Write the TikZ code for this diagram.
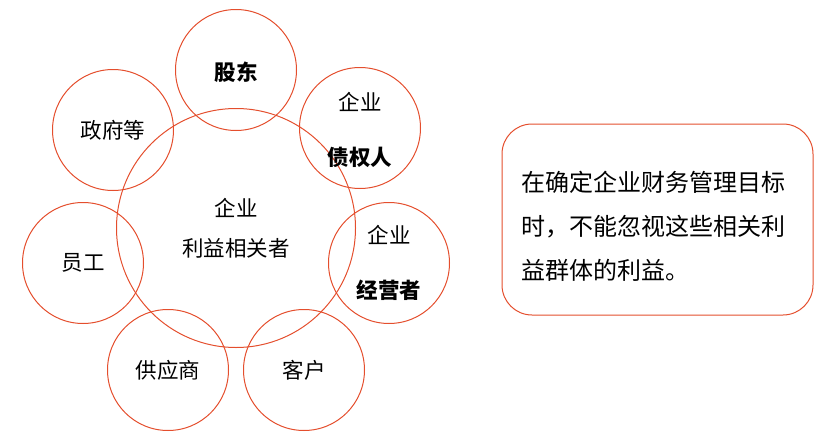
\documentclass[tikz,border=0pt]{standalone}
\usepackage{fontspec}
\setmainfont{Noto Sans CJK SC}
\definecolor{ring}{RGB}{228,78,45}
\begin{document}
\begin{tikzpicture}[x=1pt,y=-1pt,
  ringc/.style={circle,draw=ring,line width=1pt,minimum size=#1,inner sep=0pt},
  lbl/.style={font=\fontsize{21.5}{24}\selectfont,text=black},
  bl/.style={font=\fontsize{21.5}{24}\selectfont\bfseries,text=black},
  note/.style={draw=ring,line width=1pt,rounded corners=30pt,minimum width=311pt,minimum height=191pt,inner sep=0pt}]
\useasboundingbox (0,0) rectangle (822,442);
\node[ringc=239pt] (big) at (236,228) {};
\node[ringc=121pt] (gd) at (236,70) {};
\node[ringc=121pt] (zf) at (113,130) {};
\node[ringc=121pt] (zq) at (360,128) {};
\node[ringc=121pt] (yg) at (83,263) {};
\node[ringc=121pt] (jy) at (389,263) {};
\node[ringc=121pt] (gy) at (168,370) {};
\node[ringc=121pt] (kh) at (304,370) {};
\node[bl] (tgd) at (236,72) {股东};
\node[lbl] (tzf) at (113,130) {政府等};
\node[lbl] (tzq1) at (360,102) {企业};
\node[bl] (tzq2) at (360,157) {债权人};
\node[lbl] (tbig1) at (236,208) {企业};
\node[lbl] (tbig2) at (236,248) {利益相关者};
\node[lbl] (tyg) at (83,263) {员工};
\node[lbl] (tjy1) at (389,235) {企业};
\node[bl] (tjy2) at (389,290) {经营者};
\node[lbl] (tgy) at (168,370) {供应商};
\node[lbl] (tkh) at (304,370) {客户};
\node[note] (box) at (657.5,219.5) {};
\node[anchor=west,font=\fontsize{24}{44}\selectfont,align=left,text=black,inner sep=0pt] (txt) at (521,226)
  {在确定企业财务管理目标\\时，不能忽视这些相关利\\益群体的利益。};
\end{tikzpicture}
\end{document}
